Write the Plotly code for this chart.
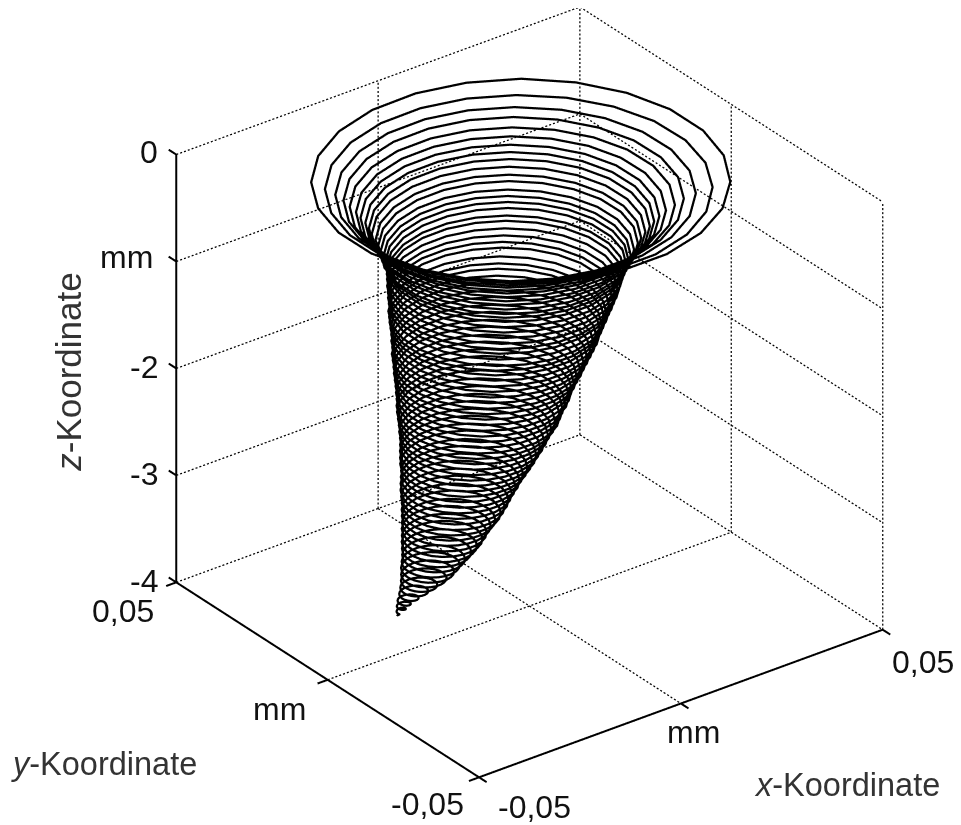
import numpy as np
import plotly.graph_objects as go

# Per-turn read-offs of the helical path (mm)
ring_radius = [.0419,.0381,.0356,.0336,.0322,.0306,.0296,.0286,.0278,.0271,.0263,.0257,.0251,.0245,.0241,.0237,.0235,.0233,.0231,.0227,.0225,.0221,.0219,.0215,.0213,.0209,
 .0207,.0203,.0199,.0196,.0192,.0188,.0184,.0180,.0176,.0174,.0170,.0166,.0164,.0160,.0154,.0150,.0146,.0142,.0138,.0134,.0130,.0124,.0120,.0117,.0113,.0109,.0105,.0101,.0097,.0091,.0087,.0083,.0079,.0073,.0067,.0061,.0057,.0051,.0043,.0034,.0026,.0018,.0012,.0008,.0001]
ring_cx = [-.0024,-.0032,-.0035,-.0037,-.0039,-.0041,-.0042,-.0042,-.0042,-.0044,-.0044,-.0044,-.0046,-.0046,-.0046,-.0046,-.0048,-.0049,-.0051,-.0053,-.0055,-.0056,-.0060,-.0062,-.0063,-.0065,
 -.0065,-.0069,-.0070,-.0074,-.0076,-.0078,-.0081,-.0083,-.0085,-.0086,-.0088,-.0092,-.0093,-.0095,-.0099,-.0102,-.0104,-.0107,-.0111,-.0114,-.0118,-.0121,-.0125,-.0128,-.0132,-.0135,-.0137,-.0141,-.0144,-.0149,-.0153,-.0156,-.0160,-.0165,-.0170,-.0176,-.0181,-.0186,-.0193,-.0202,-.0211,-.0221,-.0228,-.0232,-.0239]
ring_cy = [.0003,.0007,.0009,.0010,.0011,.0012,.0013,.0013,.0013,.0014,.0014,.0014,.0015,.0015,.0015,.0015,.0016,.0017,.0018,.0019,.0020,.0021,.0022,.0023,.0024,.0025,
 .0025,.0027,.0028,.0030,.0031,.0032,.0034,.0035,.0036,.0037,.0038,.0040,.0041,.0042,.0043,.0045,.0046,.0048,.0050,.0052,.0054,.0056,.0058,.0060,.0062,.0063,.0064,.0066,.0068,.0071,.0073,.0075,.0077,.0080,.0082,.0085,.0088,.0091,.0095,.0100,.0104,.0110,.0114,.0116,.0119]
ring_z = [0,-.062,-.117,-.163,-.227,-.273,-.329,-.375,-.422,-.477,-.533,-.579,-.644,-.690,-.737,-.784,-.849,-.894,-.959,-1.015,-1.070,-1.115,-1.189,-1.244,-1.290,-1.345,
 -1.401,-1.465,-1.520,-1.584,-1.640,-1.704,-1.759,-1.823,-1.878,-1.943,-1.998,-2.062,-2.117,-2.182,-2.237,-2.300,-2.356,-2.419,-2.474,-2.538,-2.592,-2.657,-2.711,-2.775,-2.830,-2.893,-2.949,-3.012,-3.067,-3.130,-3.184,-3.249,-3.304,-3.367,-3.421,-3.483,-3.537,-3.600,-3.654,-3.716,-3.768,-3.830,-3.883,-3.927,-3.981]

x_ticks = [-0.05, 0.0, 0.05]
y_ticks = [-0.05, 0.0, 0.05]
z_ticks = [0, -1, -2, -3, -4]
x_ticktext = ["-0,05", "mm", "0,05"]
y_ticktext = ["-0,05", "mm", "0,05"]
z_ticktext = ["0", "mm", "-2", "-3", "-4"]

XMIN, XMAX = x_ticks[0], x_ticks[-1]
YMIN, YMAX = y_ticks[0], y_ticks[-1]
ZMIN, ZMAX = z_ticks[-1], z_ticks[0]

# The helix: a half turn at the top (its free end hidden at the front), then
# one coarse polygonal turn from each read-off to the next, back edge to back edge.
SEG = 24
A0 = 0.916
hx, hy, hz = [], [], []
t0 = np.arange(SEG // 2) / (SEG // 2)
a0 = A0 - np.pi + np.pi * t0
hx += list(ring_cx[0] + ring_radius[0] * np.cos(a0))
hy += list(ring_cy[0] + ring_radius[0] * np.sin(a0))
hz += [ring_z[0]] * len(t0)
for i in range(len(ring_z) - 1):
    t = np.arange(SEG) / SEG
    a = A0 + 2 * np.pi * t
    r = ring_radius[i] + (ring_radius[i + 1] - ring_radius[i]) * t
    hx += list(ring_cx[i] + (ring_cx[i + 1] - ring_cx[i]) * t + r * np.cos(a))
    hy += list(ring_cy[i] + (ring_cy[i + 1] - ring_cy[i]) * t + r * np.sin(a))
    hz += list(ring_z[i] + (ring_z[i + 1] - ring_z[i]) * t)
hx.append(ring_cx[-1])
hy.append(ring_cy[-1])
hz.append(ring_z[-1])


def segments(pairs):
    xs, ys, zs = [], [], []
    for a, b in pairs:
        xs += [a[0], b[0], None]
        ys += [a[1], b[1], None]
        zs += [a[2], b[2], None]
    return xs, ys, zs


def dotted(pairs):
    # plotly's 3-D dash pattern follows data units, so the dots are cut by hand
    out = []
    for a, b in pairs:
        a, b = np.array(a, float), np.array(b, float)
        n = 88 if a[1] != b[1] else 105
        for k in range(n):
            out.append((tuple(a + (b - a) * k / n), tuple(a + (b - a) * (k + 0.5) / n)))
    return out


grid = []
for z in z_ticks:
    grid.append(((XMIN, YMAX, z), (XMAX, YMAX, z)))
    grid.append(((XMAX, YMAX, z), (XMAX, YMIN, z)))
for x in x_ticks:
    grid.append(((x, YMAX, ZMIN), (x, YMAX, ZMAX)))
    grid.append(((x, YMAX, ZMIN), (x, YMIN, ZMIN)))
for y in y_ticks:
    grid.append(((XMAX, y, ZMIN), (XMAX, y, ZMAX)))
    grid.append(((XMIN, y, ZMIN), (XMAX, y, ZMIN)))

axes = [((XMIN, YMAX, ZMIN), (XMIN, YMAX, ZMAX)),
        ((XMIN, YMIN, ZMIN), (XMAX, YMIN, ZMIN)),
        ((XMIN, YMIN, ZMIN), (XMIN, YMAX, ZMIN))]
TX, TY = 0.0025, 0.0025
for z in z_ticks:
    axes.append(((XMIN, YMAX, z), (XMIN, YMAX + TY, z)))
for x in x_ticks:
    axes.append(((x, YMIN, ZMIN), (x, YMIN - TY, ZMIN)))
for y in y_ticks:
    axes.append(((XMIN, y, ZMIN), (XMIN - TX, y, ZMIN)))

fig = go.Figure()
gx, gy, gz = segments(dotted(grid))
fig.add_trace(go.Scatter3d(x=gx, y=gy, z=gz, mode="lines", hoverinfo="skip",
                           line=dict(color="#000000", width=2.5)))
ax, ay, az = segments(axes)
fig.add_trace(go.Scatter3d(x=ax, y=ay, z=az, mode="lines", hoverinfo="skip",
                           line=dict(color="#000000", width=4)))
fig.add_trace(go.Scatter3d(x=hx, y=hy, z=hz, mode="lines",
                           line=dict(color="#000000", width=4.5)))

FS = 32
TXT = "#111111"


def note(x, y, z, text, dx, dy, **kw):
    d = dict(x=x, y=y, z=z, text=text, showarrow=False, xshift=dx, yshift=dy,
             font=dict(family="Liberation Sans", size=kw.pop("size", FS), color=kw.pop("color", TXT)),
             xanchor=kw.pop("xanchor", "center"), yanchor="middle")
    d.update(kw)
    return d


anns = []
for z, t, sh in zip(z_ticks, z_ticktext, [(-16, 3), (-21, 5), (-16, 1), (-16, 1), (-16, 1)]):
    anns.append(note(XMIN, YMAX, z, t, sh[0], sh[1], xanchor="right"))
for y, t, sh in zip(y_ticks, y_ticktext, [(-52, -27), (-48, -29), (-53, -29)]):
    anns.append(note(XMIN, y, ZMIN, t, sh[0], sh[1]))
for x, t, sh in zip(x_ticks, x_ticktext, [(55, -30), (13, -29), (40, -32)]):
    anns.append(note(x, YMIN, ZMIN, t, sh[0], sh[1]))
anns.append(note(XMIN, YMAX, -2, "<i>z</i>-Koordinate", -108, -4, textangle=-90, color="#333333", size=35))
anns.append(note(XMIN, 0.0, ZMIN, "<i>y</i>-Koordinate", -224, -84, color="#333333", size=32.5))
anns.append(note(0.0, YMIN, ZMIN, "<i>x</i>-Koordinate", 166, -82, color="#333333", size=32.5))

hidden = dict(visible=False, showgrid=False, zeroline=False, showspikes=False)
PAD = 0.005
ZOOM = 1.198
view_dir = np.array([-0.526, -0.698, 0.485])
center = np.array([-0.0997, 0.0328, -0.0599])
eye = center + view_dir * 1.6
fig.update_layout(
    width=961, height=825, margin=dict(l=0, r=0, t=0, b=0), paper_bgcolor="white",
    showlegend=False,
    scene=dict(
        domain=dict(x=[0, 1], y=[0, 1]),
        xaxis=dict(range=[XMIN - PAD, XMAX + PAD], **hidden),
        yaxis=dict(range=[YMIN - PAD, YMAX + PAD], **hidden),
        zaxis=dict(range=[ZMIN - 0.1, ZMAX + 0.1], **hidden),
        aspectmode="manual",
        aspectratio=dict(x=1.1 * 1.03 * 0.993 * ZOOM, y=1.1 * 1.01 * 1.008 * ZOOM, z=1.05 * 0.99 * ZOOM),
        camera=dict(projection=dict(type="orthographic"),
                    up=dict(x=0, y=0, z=1),
                    center=dict(x=center[0], y=center[1], z=center[2]),
                    eye=dict(x=eye[0], y=eye[1], z=eye[2])),
        annotations=anns,
    ),
)
fig.write_html("out.html")
